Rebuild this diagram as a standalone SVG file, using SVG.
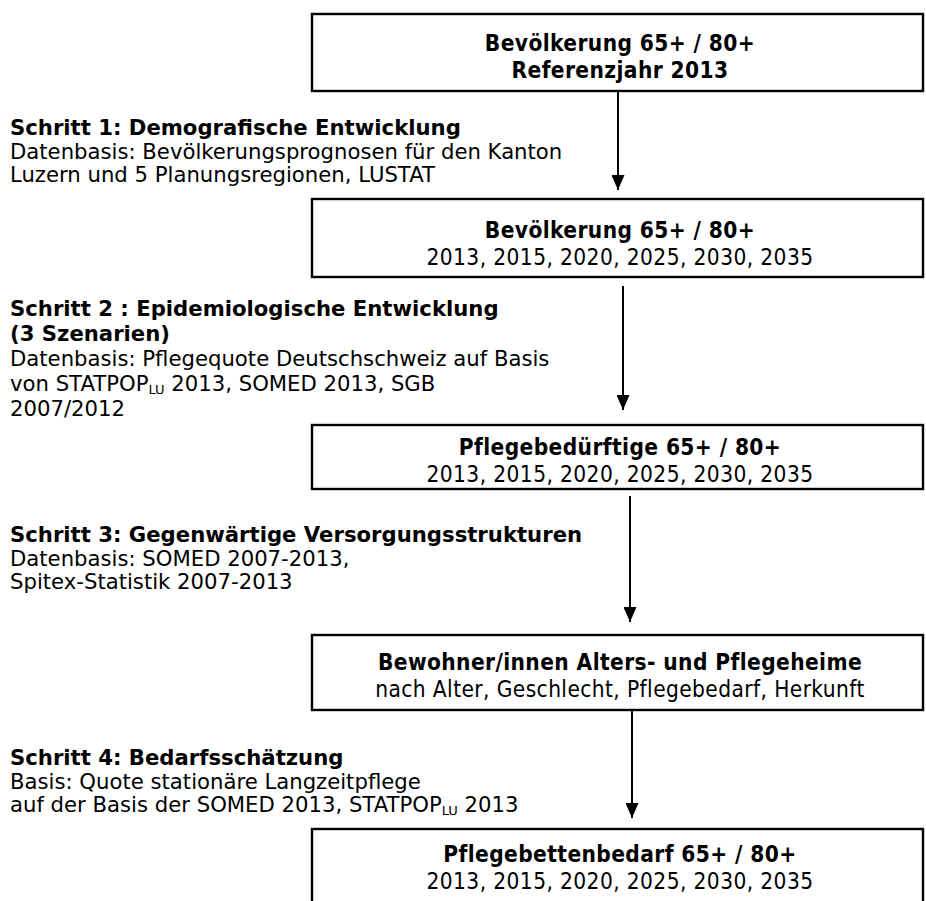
<svg xmlns="http://www.w3.org/2000/svg" width="926" height="901" viewBox="0 0 926 901">
<style>
.box{fill:#fff;stroke:#000;stroke-width:2.4}
.bt{font-family:"DejaVu Sans Condensed","DejaVu Sans",sans-serif;font-size:22.5px;letter-spacing:0.4px;text-anchor:middle;fill:#000}
.b{font-weight:bold}
.lt{font-family:"DejaVu Sans",Verdana,sans-serif;font-size:21.2px;fill:#000}
.ln{stroke:#000;stroke-width:2;fill:none}
.sub{font-size:13px}
</style>
<defs>
<marker id="ah" viewBox="0 0 15 13" refX="15" refY="6.5" markerWidth="15" markerHeight="13" markerUnits="userSpaceOnUse" orient="auto">
<path d="M0,0 L15,6.5 L0,13 Z" fill="#000"/>
</marker>
</defs>
<g id="n1">
<rect class="box" x="312" y="14" width="611" height="77"/>
<text class="bt b" x="620" y="51">Bevölkerung 65+ / 80+</text>
<text class="bt b" x="620" y="77.5">Referenzjahr 2013</text>
</g>
<g id="n2">
<rect class="box" x="312" y="199" width="611" height="78"/>
<text class="bt b" x="620" y="238">Bevölkerung 65+ / 80+</text>
<text class="bt" x="620" y="264.5">2013, 2015, 2020, 2025, 2030, 2035</text>
</g>
<g id="n3">
<rect class="box" x="312" y="425" width="611" height="64"/>
<text class="bt b" x="620" y="455">Pflegebedürftige 65+ / 80+</text>
<text class="bt" x="620" y="481.5">2013, 2015, 2020, 2025, 2030, 2035</text>
</g>
<g id="n4">
<rect class="box" x="312" y="635" width="611" height="75"/>
<text class="bt b" x="620" y="670">Bewohner/innen Alters- und Pflegeheime</text>
<text class="bt" x="620" y="696.5">nach Alter, Geschlecht, Pflegebedarf, Herkunft</text>
</g>
<g id="n5">
<rect class="box" x="312" y="829" width="611" height="80"/>
<text class="bt b" x="620" y="862">Pflegebettenbedarf 65+ / 80+</text>
<text class="bt" x="620" y="888.5">2013, 2015, 2020, 2025, 2030, 2035</text>
</g>
<g id="s1">
<text class="lt b" x="10" y="135">Schritt 1: Demografische Entwicklung</text>
<text class="lt" x="10" y="158.5">Datenbasis: Bevölkerungsprognosen für den Kanton</text>
<text class="lt" x="10" y="182">Luzern und 5 Planungsregionen, LUSTAT</text>
</g>
<g id="s2">
<text class="lt b" x="10" y="316">Schritt 2 : Epidemiologische Entwicklung</text>
<text class="lt b" x="10" y="341">(3 Szenarien)</text>
<text class="lt" x="10" y="366">Datenbasis: Pflegequote Deutschschweiz auf Basis</text>
<text class="lt" x="10" y="391">von STATPOP<tspan class="sub" dy="3">LU</tspan><tspan dy="-3"> 2013, SOMED 2013, SGB</tspan></text>
<text class="lt" x="10" y="416">2007/2012</text>
</g>
<g id="s3">
<text class="lt b" x="10" y="542">Schritt 3: Gegenwärtige Versorgungsstrukturen</text>
<text class="lt" x="10" y="565.5">Datenbasis: SOMED 2007-2013,</text>
<text class="lt" x="10" y="589">Spitex-Statistik 2007-2013</text>
</g>
<g id="s4">
<text class="lt b" x="10" y="765">Schritt 4: Bedarfsschätzung</text>
<text class="lt" x="10" y="788.5">Basis: Quote stationäre Langzeitpflege</text>
<text class="lt" x="10" y="812">auf der Basis der SOMED 2013, STATPOP<tspan class="sub" dy="3">LU</tspan><tspan dy="-3"> 2013</tspan></text>
</g>
<g id="connectors">
<line class="ln" x1="618" y1="91" x2="618" y2="190" marker-end="url(#ah)"/>
<line class="ln" x1="623" y1="286" x2="623" y2="410" marker-end="url(#ah)"/>
<line class="ln" x1="630" y1="496" x2="630" y2="622" marker-end="url(#ah)"/>
<line class="ln" x1="632" y1="710" x2="632" y2="818" marker-end="url(#ah)"/>
</g>
</svg>
